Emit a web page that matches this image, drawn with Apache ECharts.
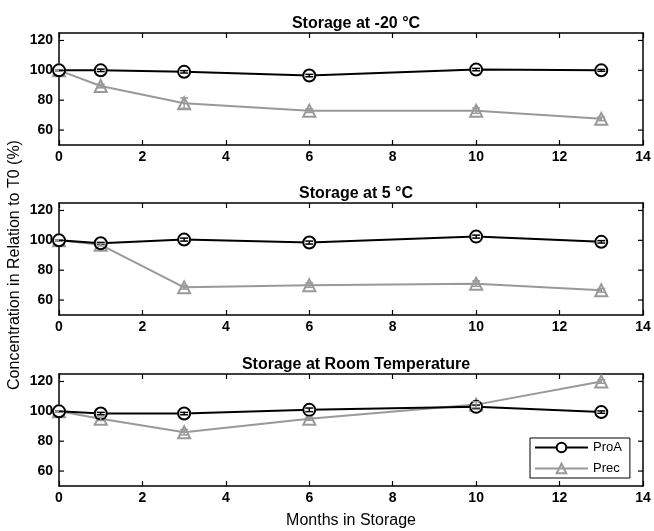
<!DOCTYPE html>
<html>
<head>
<meta charset="utf-8">
<script src="https://cdn.jsdelivr.net/npm/echarts@6/dist/echarts.min.js"></script>
<style>
html, body { margin: 0; padding: 0; background: #fff; }
#main { width: 654px; height: 531px; }
</style>
</head>
<body>
<div id="main"></div>
<script>
// storage stability, three panels
var months = [0, 1, 3, 6, 10, 13];
var yTicks = [60, 80, 100, 120];
var panelTitles = ['Storage at -20 °C', 'Storage at 5 °C', 'Storage at Room Temperature'];

var proaM20 = [100, 100, 99, 96.5, 100.5, 100];
var precM20 = [100, 89.5, 78, 73, 73, 67.5];
var proa5 = [100, 98, 100.5, 98.5, 102.5, 99];
var prec5 = [100, 97, 68.5, 70, 71, 66.5];
var proaRT = [100, 98.5, 98.5, 101, 103, 99.5];
var precRT = [100, 95, 86, 95, 104.5, 120];

// +/- error (estimated)
var proaM20Err = [0.3, 0.8, 0.8, 0.8, 0.8, 0.6];
var precM20Err = [0.3, 1.2, 3.5, 1.2, 1.8, 1.2];
var proa5Err = [0.3, 0.6, 1, 1, 1, 0.8];
var prec5Err = [0.3, 0.8, 1.2, 1.5, 1.8, 1.2];
var proaRTErr = [0.3, 0.8, 0.8, 1.2, 1.2, 0.8];
var precRTErr = [0.3, 1.2, 1.8, 1, 2, 1.2];

var proaSets = [proaM20, proa5, proaRT];
var precSets = [precM20, prec5, precRT];
var proaErrs = [proaM20Err, proa5Err, proaRTErr];
var precErrs = [precM20Err, prec5Err, precRTErr];

var dom = document.getElementById('main');
var myChart = echarts.init(dom);

var FONT = '"Liberation Sans", Arial, sans-serif';
var BLACK = '#000';
var GREY = '#999';
var gridTops = [33, 203, 374];
var gridH = 112;
var X_MIN = 0, X_MAX = 14;

function pairs(ys) {
    return months.map(function (m, i) { return [m, ys[i]]; });
}
function errData(ys, es) {
    return months.map(function (m, i) { return [m, ys[i] - es[i], ys[i] + es[i]]; });
}
function errRender(color) {
    return function (params, api) {
        var x = api.value(0);
        var lo = api.coord([x, api.value(1)]);
        var hi = api.coord([x, api.value(2)]);
        var st = { stroke: color, lineWidth: 1.5 };
        return {
            type: 'group',
            children: [
                { type: 'line', shape: { x1: lo[0], y1: lo[1], x2: hi[0], y2: hi[1] }, style: st },
                { type: 'line', shape: { x1: lo[0] - 4, y1: lo[1], x2: lo[0] + 4, y2: lo[1] }, style: st },
                { type: 'line', shape: { x1: hi[0] - 4, y1: hi[1], x2: hi[0] + 4, y2: hi[1] }, style: st }
            ]
        };
    };
}
// inward y ticks on both sides of the box
function yTickRender(params, api) {
    var v = api.value(0);
    var l = api.coord([X_MIN, v]);
    var r = api.coord([X_MAX, v]);
    var st = { stroke: BLACK, lineWidth: 1.2 };
    return {
        type: 'group',
        children: [
            { type: 'line', shape: { x1: l[0], y1: l[1], x2: l[0] + 5, y2: l[1] }, style: st },
            { type: 'line', shape: { x1: r[0], y1: r[1], x2: r[0] - 5, y2: r[1] }, style: st }
        ]
    };
}

var tickStyle = { show: true, inside: true, length: 5, lineStyle: { color: BLACK, width: 1.2 } };

var grids = [], xAxes = [], yAxes = [], series = [], titles = [];
for (var i = 0; i < 3; i++) {
    grids.push({ left: 59, right: 11, top: gridTops[i], height: gridH });
    titles.push({
        text: panelTitles[i], left: 351, textAlign: 'center', top: gridTops[i] - 22,
        textStyle: { fontFamily: FONT, fontSize: 16, fontWeight: 'bold', color: BLACK }
    });
    xAxes.push({
        type: 'value', gridIndex: i, min: X_MIN, max: X_MAX, interval: 2, position: 'bottom',
        axisLine: { show: true, onZero: false, lineStyle: { color: BLACK, width: 1.5 } },
        axisTick: tickStyle,
        splitLine: { show: false },
        axisLabel: { fontFamily: FONT, fontSize: 14, fontWeight: 'bold', color: BLACK, margin: 5 }
    });
    xAxes.push({
        type: 'value', gridIndex: i, min: X_MIN, max: X_MAX, interval: 2, position: 'top',
        axisLine: { show: true, onZero: false, lineStyle: { color: BLACK, width: 1.5 } },
        axisTick: tickStyle,
        splitLine: { show: false },
        axisLabel: { show: false }
    });
    yAxes.push({
        type: 'value', gridIndex: i, min: 50, max: 125, position: 'left',
        axisLine: { show: true, onZero: false, lineStyle: { color: BLACK, width: 1.5 } },
        axisTick: { show: false },
        splitLine: { show: false },
        axisLabel: { fontFamily: FONT, fontSize: 14, fontWeight: 'bold', color: BLACK, margin: 6, customValues: yTicks }
    });
    yAxes.push({
        type: 'value', gridIndex: i, min: 50, max: 125, position: 'right',
        axisLine: { show: true, onZero: false, lineStyle: { color: BLACK, width: 1.5 } },
        axisTick: { show: false },
        splitLine: { show: false },
        axisLabel: { show: false }
    });

    series.push({
        type: 'custom', xAxisIndex: 2 * i, yAxisIndex: 2 * i, z: 5, clip: false, silent: true,
        renderItem: yTickRender, data: yTicks.map(function (v) { return [v]; }),
        encode: { y: 0 }
    });
    series.push({
        name: 'ProA', type: 'line', xAxisIndex: 2 * i, yAxisIndex: 2 * i,
        data: pairs(proaSets[i]), symbol: 'circle', symbolSize: 12,
        itemStyle: { color: '#fff', borderColor: BLACK, borderWidth: 2 },
        lineStyle: { color: BLACK, width: 2 }, z: 3
    });
    series.push({
        name: 'Prec', type: 'line', xAxisIndex: 2 * i, yAxisIndex: 2 * i,
        data: pairs(precSets[i]), symbol: 'triangle', symbolSize: 12,
        itemStyle: { color: 'rgba(255,255,255,0)', borderColor: GREY, borderWidth: 2 },
        lineStyle: { color: GREY, width: 2 }, z: 2
    });
    series.push({
        type: 'custom', xAxisIndex: 2 * i, yAxisIndex: 2 * i, z: 4,
        renderItem: errRender(BLACK), data: errData(proaSets[i], proaErrs[i]), silent: true
    });
    series.push({
        type: 'custom', xAxisIndex: 2 * i, yAxisIndex: 2 * i, z: 4,
        renderItem: errRender(GREY), data: errData(precSets[i], precErrs[i]), silent: true
    });
}

var option = {
    backgroundColor: '#fff',
    animation: false,
    title: titles,
    grid: grids,
    xAxis: xAxes,
    yAxis: yAxes,
    legend: {
        orient: 'vertical', left: 530, top: 438,
        data: ['ProA', 'Prec'],
        itemWidth: 53, itemHeight: 12, itemGap: 8,
        borderColor: BLACK, borderWidth: 1, borderRadius: 0,
        padding: [3, 8, 3, 4], backgroundColor: '#fff',
        textStyle: { fontFamily: FONT, fontSize: 13, color: BLACK }
    },
    graphic: [
        { type: 'text', x: 15, y: 265, rotation: Math.PI / 2,
          style: { text: 'Concentration in Relation to T0 (%)', font: '16px ' + FONT, fill: BLACK,
                   textAlign: 'center', textVerticalAlign: 'middle' } },
        { type: 'text', x: 351, y: 521,
          style: { text: 'Months in Storage', font: '16px ' + FONT, fill: BLACK,
                   textAlign: 'center', textVerticalAlign: 'middle' } }
    ],
    series: series
};

if (option && typeof option === 'object') {
    myChart.setOption(option, true);
}
</script>
</body>
</html>
